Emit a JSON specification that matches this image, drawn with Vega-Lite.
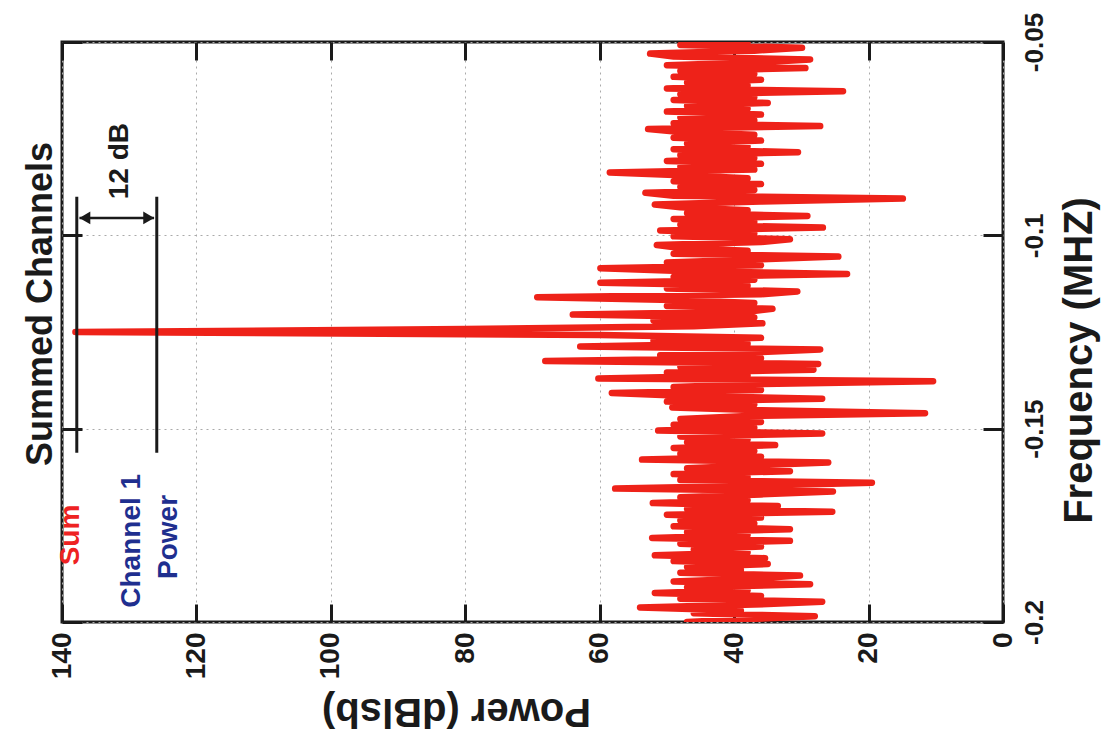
{
  "$schema": "https://vega.github.io/schema/vega-lite/v6.json",
  "width": 941,
  "height": 580,
  "autosize": {"type": "none"},
  "padding": {"left": 62, "top": 42, "right": 99, "bottom": 119},
  "background": "white",
  "config": {"font": "Liberation Sans", "view": {"stroke": "#1a1a1a", "strokeWidth": 3}},
  "title": {"text": "Summed Channels", "orient": "left", "anchor": "middle", "fontSize": 36, "fontWeight": "bold", "color": "#1a1a1a", "offset": -12, "dx": 28},
  "resolve": {"axis": {"x": "independent", "y": "independent"}},
  "datasets": {
    "spectrum": [
      {"f":-0.2,"p":47},{"f":-0.19925,"p":38},{"f":-0.1985,"p":28.0},{"f":-0.19775,"p":46},{"f":-0.197,"p":39},
      {"f":-0.19625,"p":54.0},{"f":-0.1955,"p":37},{"f":-0.19475,"p":26.9},{"f":-0.194,"p":48},{"f":-0.19325,"p":36},
      {"f":-0.1925,"p":51.8},{"f":-0.19175,"p":38},{"f":-0.191,"p":47},{"f":-0.19025,"p":28.7},{"f":-0.1895,"p":49},
      {"f":-0.18875,"p":37},{"f":-0.188,"p":30.2},{"f":-0.18725,"p":48},{"f":-0.1865,"p":39},{"f":-0.18575,"p":47},
      {"f":-0.185,"p":35},{"f":-0.18425,"p":49},{"f":-0.1835,"p":35.4},{"f":-0.18275,"p":51.8},{"f":-0.182,"p":38},
      {"f":-0.18125,"p":46},{"f":-0.1805,"p":36},{"f":-0.17975,"p":48},{"f":-0.179,"p":31.7},{"f":-0.17825,"p":52.2},
      {"f":-0.1775,"p":38},{"f":-0.17675,"p":47},{"f":-0.176,"p":31.7},{"f":-0.17525,"p":49},{"f":-0.1745,"p":37},
      {"f":-0.17375,"p":48},{"f":-0.173,"p":36},{"f":-0.17225,"p":50},{"f":-0.1715,"p":25.4},{"f":-0.17075,"p":47},
      {"f":-0.17,"p":33.5},{"f":-0.16925,"p":52.1},{"f":-0.1685,"p":38},{"f":-0.16775,"p":48},{"f":-0.167,"p":36},
      {"f":-0.16625,"p":25.3},{"f":-0.1655,"p":57.7},{"f":-0.16475,"p":37},{"f":-0.164,"p":19.5},{"f":-0.16325,"p":48},
      {"f":-0.1625,"p":38},{"f":-0.16175,"p":49},{"f":-0.161,"p":31.7},{"f":-0.16025,"p":47},{"f":-0.1595,"p":37},
      {"f":-0.15875,"p":26.0},{"f":-0.158,"p":53.7},{"f":-0.15725,"p":36},{"f":-0.1565,"p":48},{"f":-0.15575,"p":37},
      {"f":-0.155,"p":49},{"f":-0.15425,"p":33.9},{"f":-0.1535,"p":47},{"f":-0.15275,"p":38},{"f":-0.152,"p":48},
      {"f":-0.15125,"p":26.9},{"f":-0.1505,"p":51.3},{"f":-0.14975,"p":37},{"f":-0.149,"p":49},{"f":-0.14825,"p":36},
      {"f":-0.1475,"p":48},{"f":-0.14675,"p":38},{"f":-0.146,"p":11.6},{"f":-0.14525,"p":36},{"f":-0.1445,"p":49.2},
      {"f":-0.14375,"p":37},{"f":-0.143,"p":50},{"f":-0.14225,"p":26.9},{"f":-0.1415,"p":48},{"f":-0.14075,"p":58.2},
      {"f":-0.14,"p":36},{"f":-0.13925,"p":49},{"f":-0.1385,"p":37},{"f":-0.13775,"p":10.4},{"f":-0.137,"p":60.2},
      {"f":-0.13625,"p":38},{"f":-0.1355,"p":50},{"f":-0.13475,"p":28.2},{"f":-0.134,"p":48},{"f":-0.13325,"p":27.5},
      {"f":-0.1325,"p":68.1},{"f":-0.13175,"p":36},{"f":-0.131,"p":51},{"f":-0.13025,"p":37},{"f":-0.1295,"p":27.2},
      {"f":-0.12875,"p":62.9},{"f":-0.128,"p":38},{"f":-0.12725,"p":52},{"f":-0.1265,"p":36},{"f":-0.12575,"p":60},
      {"f":-0.125,"p":138},{"f":-0.12425,"p":80},{"f":-0.1235,"p":46},{"f":-0.12275,"p":35.8},{"f":-0.122,"p":52},
      {"f":-0.12125,"p":37},{"f":-0.1205,"p":64.0},{"f":-0.11975,"p":38},{"f":-0.119,"p":34.3},{"f":-0.11825,"p":50},
      {"f":-0.1175,"p":37},{"f":-0.11675,"p":49},{"f":-0.116,"p":69.3},{"f":-0.11525,"p":36},{"f":-0.1145,"p":30.6},
      {"f":-0.11375,"p":50},{"f":-0.113,"p":38},{"f":-0.11225,"p":59.9},{"f":-0.1115,"p":37},{"f":-0.11075,"p":49},
      {"f":-0.11,"p":23.2},{"f":-0.10925,"p":48},{"f":-0.1085,"p":59.9},{"f":-0.10775,"p":36},{"f":-0.107,"p":50},
      {"f":-0.10625,"p":37},{"f":-0.1055,"p":24.5},{"f":-0.10475,"p":49},{"f":-0.104,"p":38},{"f":-0.10325,"p":48},
      {"f":-0.1025,"p":51.5},{"f":-0.10175,"p":36},{"f":-0.101,"p":31.7},{"f":-0.10025,"p":49},{"f":-0.0995,"p":37},
      {"f":-0.09875,"p":51.0},{"f":-0.098,"p":26.8},{"f":-0.09725,"p":48},{"f":-0.0965,"p":37},{"f":-0.09575,"p":49},
      {"f":-0.095,"p":29.1},{"f":-0.09425,"p":47},{"f":-0.0935,"p":38},{"f":-0.09275,"p":48},{"f":-0.092,"p":51.8},
      {"f":-0.09125,"p":36},{"f":-0.0905,"p":14.9},{"f":-0.08975,"p":49},{"f":-0.089,"p":53.2},{"f":-0.08825,"p":37},
      {"f":-0.0875,"p":48},{"f":-0.08675,"p":36},{"f":-0.086,"p":49},{"f":-0.08525,"p":38},{"f":-0.0845,"p":47},
      {"f":-0.08375,"p":58.5},{"f":-0.083,"p":37},{"f":-0.08225,"p":48},{"f":-0.0815,"p":36},{"f":-0.08075,"p":50},
      {"f":-0.08,"p":37},{"f":-0.07925,"p":48},{"f":-0.0785,"p":30.5},{"f":-0.07775,"p":49},{"f":-0.077,"p":38},
      {"f":-0.07625,"p":47},{"f":-0.0755,"p":36},{"f":-0.07475,"p":49},{"f":-0.074,"p":37},{"f":-0.07325,"p":48},
      {"f":-0.0725,"p":52.8},{"f":-0.07175,"p":27.2},{"f":-0.071,"p":49},{"f":-0.07025,"p":37},{"f":-0.0695,"p":48},
      {"f":-0.06875,"p":36},{"f":-0.068,"p":50},{"f":-0.06725,"p":38},{"f":-0.0665,"p":47},{"f":-0.06575,"p":35},
      {"f":-0.065,"p":49},{"f":-0.06425,"p":37},{"f":-0.0635,"p":48},{"f":-0.06275,"p":23.8},{"f":-0.062,"p":50},
      {"f":-0.06125,"p":38},{"f":-0.0605,"p":47},{"f":-0.05975,"p":36},{"f":-0.059,"p":49},{"f":-0.05825,"p":37},
      {"f":-0.0575,"p":48},{"f":-0.05675,"p":29.4},{"f":-0.056,"p":50},{"f":-0.05525,"p":36},{"f":-0.0545,"p":28.7},
      {"f":-0.05375,"p":49},{"f":-0.053,"p":52.5},{"f":-0.05225,"p":37},{"f":-0.0515,"p":29.9},{"f":-0.05075,"p":48},
      {"f":-0.05,"p":38}
    ],
    "brackets": [
      {"p": 137.8, "f1": -0.09, "f2": -0.1562},
      {"p": 125.9, "f1": -0.09, "f2": -0.1562}
    ],
    "arrow": [
      {"p1": 137.4, "p2": 126.3, "f": -0.0955}
    ],
    "heads": [
      {"p": 136.6, "f": -0.0955, "s": "left"},
      {"p": 127.1, "f": -0.0955, "s": "right"}
    ],
    "notes": [
      {"t": "12 dB", "p": 131.4, "f": -0.0808, "k": "note"},
      {"t": "Sum", "p": 138.6, "f": -0.1775, "k": "sum"},
      {"t": "Channel 1", "p": 129.6, "f": -0.179, "k": "ch"},
      {"t": "Power", "p": 124.1, "f": -0.178, "k": "ch"}
    ]
  },
  "layer": [
    {
      "data": {"name": "spectrum"},
      "mark": {"type": "line", "color": "#ee2219", "strokeWidth": 6.5, "strokeJoin": "round", "strokeCap": "round", "clip": true},
      "encoding": {
        "x": {"field": "p", "type": "quantitative",
          "scale": {"domain": [0, 140], "reverse": true, "nice": false, "zero": false},
          "axis": {"orient": "bottom", "values": [0, 20, 40, 60, 80, 100, 120, 140],
            "title": "Power (dBlsb)", "titleAngle": 180, "titleFontSize": 40, "titleFontWeight": "bold", "titleColor": "#1a1a1a",
            "titleX": 394, "titleY": 88, "titleAlign": "center", "titleBaseline": "middle",
            "labelAngle": 270, "labelAlign": "right", "labelBaseline": "middle", "labelFontSize": 28, "labelFontWeight": "bold", "labelColor": "#1a1a1a",
            "labelPadding": 28, "labelFlush": false, "labelOverlap": false,
            "tickSize": -18, "tickWidth": 3, "tickColor": "#1a1a1a", "domain": false,
            "grid": true, "gridDash": [2, 4], "gridColor": "#aaaaaa", "gridWidth": 1}},
        "y": {"field": "f", "type": "quantitative",
          "scale": {"domain": [-0.2, -0.05], "nice": false, "zero": false},
          "axis": {"orient": "right", "values": [-0.2, -0.15, -0.1, -0.05],
            "labelExpr": "'-' + format(abs(datum.value), '~g')",
            "title": "Frequency (MHZ)", "titleAngle": 270, "titleFontSize": 40, "titleFontWeight": "bold", "titleColor": "#1a1a1a",
            "titleX": 76, "titleY": 318, "titleAlign": "center", "titleBaseline": "middle",
            "labelAngle": 270, "labelAlign": "center", "labelBaseline": "top", "labelFontSize": 26, "labelFontWeight": "bold", "labelColor": "#1a1a1a",
            "labelPadding": 38, "labelFlush": false, "labelOverlap": false,
            "tickSize": -20, "tickWidth": 3, "tickColor": "#1a1a1a", "domain": false,
            "grid": true, "gridDash": [2, 4], "gridColor": "#aaaaaa", "gridWidth": 1}},
        "order": {"field": "f", "type": "quantitative"}
      }
    },
    {
      "data": {"name": "brackets"},
      "mark": {"type": "rule", "color": "#1a1a1a", "strokeWidth": 3},
      "encoding": {
        "x": {"field": "p", "type": "quantitative",
          "scale": {"domain": [0, 140], "reverse": true, "nice": false, "zero": false},
          "axis": {"orient": "top", "values": [0, 20, 40, 60, 80, 100, 120, 140], "labels": false, "title": null, "grid": false, "domain": false,
            "tickSize": -18, "tickWidth": 3, "tickColor": "#1a1a1a"}},
        "y": {"field": "f1", "type": "quantitative",
          "scale": {"domain": [-0.2, -0.05], "nice": false, "zero": false},
          "axis": {"orient": "left", "values": [-0.2, -0.15, -0.1, -0.05], "labels": false, "title": null, "grid": false, "domain": false,
            "tickSize": -20, "tickWidth": 3, "tickColor": "#1a1a1a"}},
        "y2": {"field": "f2"}
      }
    },
    {
      "data": {"name": "arrow"},
      "mark": {"type": "rule", "color": "#1a1a1a", "strokeWidth": 2.5},
      "encoding": {
        "x": {"field": "p1", "type": "quantitative", "scale": {"domain": [0, 140], "reverse": true, "nice": false, "zero": false}, "axis": null},
        "x2": {"field": "p2"},
        "y": {"field": "f", "type": "quantitative", "scale": {"domain": [-0.2, -0.05], "nice": false, "zero": false}, "axis": null}
      }
    },
    {
      "data": {"name": "heads"},
      "mark": {"type": "point", "filled": true, "color": "#1a1a1a", "size": 160, "opacity": 1},
      "encoding": {
        "x": {"field": "p", "type": "quantitative", "scale": {"domain": [0, 140], "reverse": true, "nice": false, "zero": false}, "axis": null},
        "y": {"field": "f", "type": "quantitative", "scale": {"domain": [-0.2, -0.05], "nice": false, "zero": false}, "axis": null},
        "shape": {"field": "s", "type": "nominal", "scale": {"domain": ["left", "right"], "range": ["triangle-left", "triangle-right"]}, "legend": null}
      }
    },
    {
      "data": {"name": "notes"},
      "mark": {"type": "text", "angle": 270, "fontSize": 28, "fontWeight": "bold", "align": "center", "baseline": "middle"},
      "encoding": {
        "x": {"field": "p", "type": "quantitative", "scale": {"domain": [0, 140], "reverse": true, "nice": false, "zero": false}, "axis": null},
        "y": {"field": "f", "type": "quantitative", "scale": {"domain": [-0.2, -0.05], "nice": false, "zero": false}, "axis": null},
        "text": {"field": "t"},
        "color": {"field": "k", "type": "nominal", "scale": {"domain": ["note", "sum", "ch"], "range": ["#1a1a1a", "#ee2222", "#1f2f8f"]}, "legend": null}
      }
    }
  ]
}
